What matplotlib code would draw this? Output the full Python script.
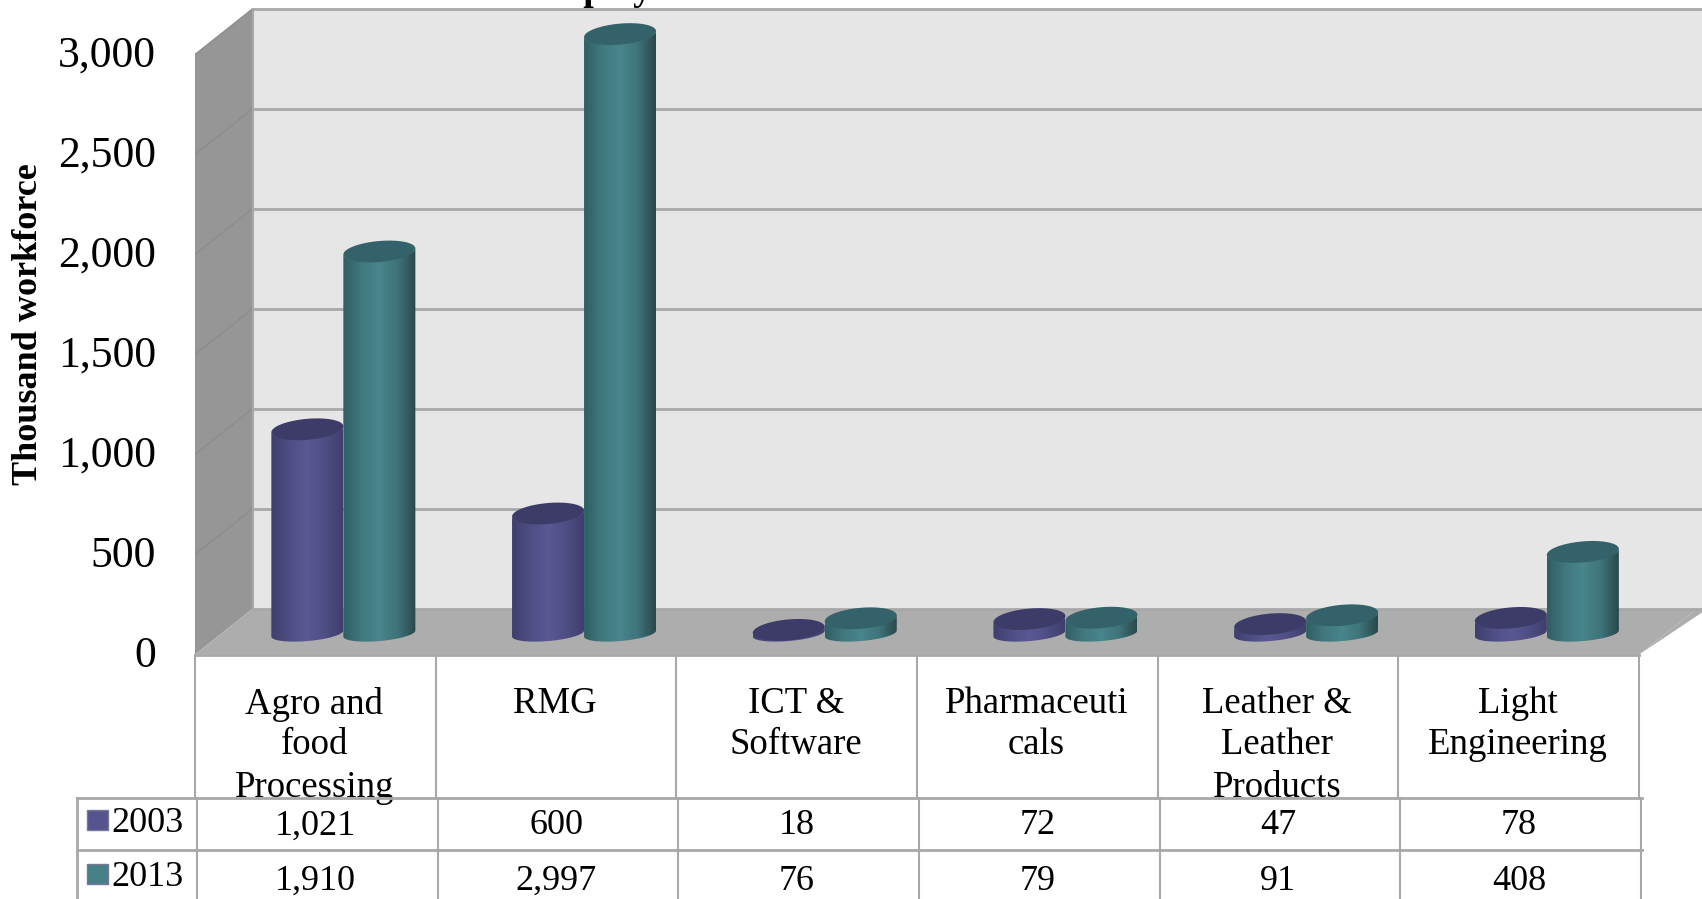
import numpy as np
import matplotlib
matplotlib.use('Agg')
import matplotlib.pyplot as plt
from matplotlib.colors import LinearSegmentedColormap
from matplotlib.patches import Polygon
from matplotlib.transforms import ScaledTranslation

categories = ['Agro and\nfood\nProcessing', 'RMG', 'ICT &\nSoftware', 'Pharmaceuti\ncals', 'Leather &\nLeather\nProducts', 'Light\nEngineering']
values_2003 = [1021, 600, 18, 72, 47, 78]
values_2013 = [1910, 2997, 76, 79, 91, 408]
y_ticks = [0, 500, 1000, 1500, 2000, 2500, 3000]

plt.rcParams['font.family'] = ['Liberation Serif', 'DejaVu Serif']

W, H = 1702, 899
LEFT = 195       # pixel of the front left corner
BASE = 654.5     # pixel row of value 0 on the front edge
CAT_W = 240.7    # pixels per category
PX = 0.2         # pixels per value unit


def dx(px):
    return px / CAT_W


def dy(px):
    return px / PX


DEPTH_X = dx(57.5)
DEPTH_Y = dy(45.6)
BAR_W = dx(72)
BAR_SHIFT = dx(28)
BASE_UP = dy(21)
GRID = '#a8a8a8'

fig = plt.figure(figsize=(W / 100, H / 100), dpi=100)
ax = fig.add_axes([LEFT / W, 0, 1 - LEFT / W, 1])
x_max = dx(W - LEFT)
y_min, y_max = -dy(H - BASE), dy(BASE)


def cylinder(center, value, cols, top_col, z):
    # body with a shaded side to side gradient, clipped to the cylinder outline
    rx, ry = BAR_W / 2, dy(10.5)
    tilt = dy(3)
    t = np.linspace(0, np.pi, 60)
    low = BASE_UP
    high = BASE_UP + value
    bx = center - rx * np.cos(t)
    by = low - ry * 0.72 * np.sin(t) - tilt * np.cos(t)
    tx = center + rx * np.cos(t)
    ty = high - ry * 0.9 * np.sin(t) + tilt * np.cos(t)
    outline = Polygon(np.column_stack([np.r_[bx, tx], np.r_[by, ty]]), closed=True,
                      transform=ax.transData, facecolor='none', edgecolor='none')
    ax.add_patch(outline)
    cmap = LinearSegmentedColormap.from_list('c', cols)
    grad = np.linspace(0, 1, 128).reshape(1, -1)
    im = ax.imshow(grad, cmap=cmap, aspect='auto', zorder=z, interpolation='bilinear',
                   extent=[center - rx, center + rx, low - ry - tilt, high + ry + tilt])
    im.set_clip_path(outline)
    # lid
    a = np.linspace(0, 2 * np.pi, 90)
    lx = center + rx * np.cos(a)
    ly = high + ry * np.sin(a) + tilt * np.cos(a)
    ax.fill(lx, ly, color=top_col, zorder=z + 0.1, lw=0)


# walls and floor
ax.add_patch(Polygon([(DEPTH_X, DEPTH_Y), (x_max, DEPTH_Y), (x_max, 3000 + DEPTH_Y), (DEPTH_X, 3000 + DEPTH_Y)],
                     facecolor='#e6e6e6', edgecolor='none', zorder=1))
ax.add_patch(Polygon([(0, 0), (DEPTH_X, DEPTH_Y), (DEPTH_X, 3000 + DEPTH_Y), (0, 3000)],
                     facecolor='#969696', edgecolor='none', zorder=1))
ax.add_patch(Polygon([(0, 0), (6, 0), (6 + DEPTH_X, DEPTH_Y), (DEPTH_X, DEPTH_Y)],
                     facecolor='#adadad', edgecolor='none', zorder=1))
ax.add_patch(Polygon([(6, 0), (x_max, dy(42)), (x_max, DEPTH_Y), (6 + DEPTH_X, DEPTH_Y)],
                     facecolor='#adadad', edgecolor='none', zorder=1))
for v in y_ticks:
    ax.plot([DEPTH_X, x_max], [v + DEPTH_Y, v + DEPTH_Y], color=GRID, lw=2, zorder=2)
    if v > 0:
        ax.plot([0, DEPTH_X], [v, v + DEPTH_Y], color='#8c8c8c', lw=1, zorder=2)
ax.plot([DEPTH_X, DEPTH_X], [DEPTH_Y, 3000 + DEPTH_Y], color=GRID, lw=1.5, zorder=2)
ax.plot([0, 6], [0, 0], color=GRID, lw=2, zorder=6)

# cylinders
cols_2003 = ['#3f3e6c', '#4f4e84', '#5a5893', '#4f4e84', '#3f3e6c']
cols_2013 = ['#2f5e64', '#42787f', '#48858c', '#3f747a', '#28494d']
for i in range(len(categories)):
    c = i + 0.5 + BAR_SHIFT
    cylinder(c - BAR_W / 2, values_2003[i], cols_2003, '#3d3c68', 3)
    cylinder(c + BAR_W / 2, values_2013[i], cols_2013, '#33626a', 4)

# data table under the chart
ROW1, ROW2 = -dy(798 - BASE), -dy(850 - BASE)
ax.plot([dx(77 - LEFT), 6.01], [ROW1, ROW1], color=GRID, lw=2, zorder=6, clip_on=False)
ax.plot([dx(77 - LEFT), 6.01], [ROW2, ROW2], color=GRID, lw=2, zorder=6, clip_on=False)
ax.plot([dx(77 - LEFT)] * 2, [ROW1, y_min], color=GRID, lw=2, zorder=6, clip_on=False)
for i in range(7):
    ax.plot([i, i], [0, ROW1], color=GRID, lw=1.5, zorder=6, clip_on=False)
    ax.plot([i + dx(2)] * 2, [ROW1, y_min], color=GRID, lw=1.5, zorder=6, clip_on=False)

for i, name in enumerate(categories):
    for j, line in enumerate(name.split('\n')):
        ax.text(i + 0.5 - dx(1), -dy([700, 741, 784][j] - BASE), line, ha='center', va='center_baseline',
                fontsize=26.5, color='black', zorder=5)
    ax.text(i + 0.5, -dy(822 - BASE), f'{values_2003[i]:,}', ha='center', va='center_baseline',
            fontsize=26, color='black', zorder=7)
    ax.text(i + 0.5, -dy(877 - BASE), f'{values_2013[i]:,}', ha='center', va='center_baseline',
            fontsize=26, color='black', zorder=7)

# legend keys inside the table
for year, row_px, col in [('2003', 820, '#56548f'), ('2013', 874, '#468087')]:
    ax.fill([dx(87 - LEFT), dx(108 - LEFT), dx(108 - LEFT), dx(87 - LEFT)],
            [-dy(row_px - 10 - BASE), -dy(row_px - 10 - BASE), -dy(row_px + 10 - BASE), -dy(row_px + 10 - BASE)],
            facecolor=col, edgecolor='#77779a', lw=1, clip_on=False, zorder=7)
    ax.text(dx(111 - LEFT), -dy(row_px - BASE), year, ha='left', va='center_baseline',
            fontsize=26, color='black', zorder=7, clip_on=False)

# only the descenders of the title survive the crop at the top of the picture
ax.text(dx(630 - LEFT), dy(BASE), 'Employment', ha='center', va='baseline', fontsize=27,
        fontweight='bold', color='black', clip_on=True, zorder=8)

ax.set_xlim(0, x_max)
ax.set_ylim(y_min, y_max)
ax.set_xticks([])
ax.set_yticks(y_ticks)
ax.set_yticklabels([f'{v:,}' for v in y_ticks], fontsize=31.5)
ax.tick_params(axis='y', length=0, pad=28)
for lab in ax.get_yticklabels():
    lab.set_transform(lab.get_transform() + ScaledTranslation(0, 3 / 100, fig.dpi_scale_trans))
for s in ax.spines.values():
    s.set_visible(False)
ax.patch.set_alpha(0)
ax.set_ylabel('Thousand workforce', fontsize=26, fontweight='bold')
ax.yaxis.set_label_coords(-(195 - 45) / (W - LEFT), (H - 324) / H)

fig.savefig('out.png', dpi=100)
